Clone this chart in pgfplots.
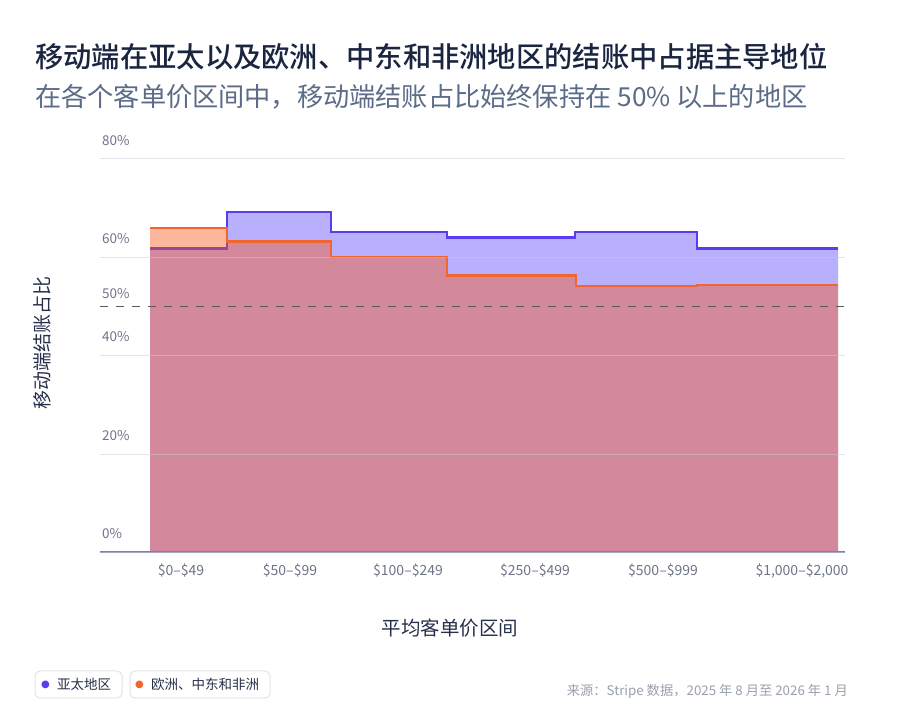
\documentclass[border=0pt]{standalone}
\usepackage{fontspec}
\setmainfont{Noto Sans CJK SC}
\newfontfamily\titlefont{Noto Sans CJK SC}[UprightFont=* Medium]
\newfontfamily\symfont{DejaVu Sans}
\usepackage{pgfplots}
\pgfplotsset{compat=1.18}
\definecolor{apline}{HTML}{5B3CF0}
\definecolor{apfill}{HTML}{B8B0FD}
\definecolor{euline}{HTML}{F2652E}
\definecolor{eufill}{RGB}{250,82,21}
\definecolor{titlec}{HTML}{1A2540}
\definecolor{subc}{HTML}{5C6C88}
\definecolor{tickc}{HTML}{6E7488}
\definecolor{labc}{HTML}{27304A}
\definecolor{basec}{HTML}{7D82A8}
\definecolor{gridc}{HTML}{C8CAD8}
\definecolor{srcc}{HTML}{9AA0AD}
\definecolor{boxc}{HTML}{E2E4EB}
\begin{document}
\begin{tikzpicture}
\fill[white] (0,0) rectangle (900pt,728pt);
\path[use as bounding box] (0,0) rectangle (900pt,728pt);
% titles
\node[anchor=west, inner sep=0pt, text=titlec, font=\titlefont\fontsize{28.3}{32}\selectfont] at (35pt,671.5pt) {移动端在亚太以及欧洲、中东和非洲地区的结账中占据主导地位};
\node[anchor=west, inner sep=0pt, text=subc, font=\fontsize{26.2}{30}\selectfont] at (35pt,631.5pt) {在各个客单价区间中，移动端结账占比始终保持在 50\% 以上的地区};
% axis labels
\node[rotate=90, inner sep=0pt, text=labc, font=\fontsize{19}{22}\selectfont] at (42pt,385pt) {移动端结账占比};
\node[inner sep=0pt, text=labc, font=\fontsize{19.5}{22}\selectfont] at (450pt,100pt) {平均客单价区间};
\begin{axis}[
  at={(100pt,175.5pt)}, anchor=south west,
  x=1pt, y=4.92pt,
  xmin=100, xmax=845, ymin=0, ymax=82,
  axis line style={draw=none},
  tick style={draw=none},
  major tick length=0pt,
  axis on top,
  clip=false,
  ytick={0,20,40,60,80},
  yticklabels={0\%,20\%,40\%,60\%,80\%},
  extra y ticks={50},
  extra y tick labels={50\%},
  extra y tick style={ymajorgrids=false, yticklabel style={yshift=-5.5pt}},
  ymajorgrids=true,
  major grid style={draw=gridc, opacity=0.5, line width=1pt},
  yticklabel style={anchor=south west, inner sep=0pt, xshift=2pt, yshift=13.5pt, text=tickc, font=\fontsize{13.5}{15}\selectfont},
  xtick={181,290,408,535,663,802},
  xticklabels={\$0–\$49,\$50–\$99,\$100–\$249,\$250–\$499,\$500–\$999,{\$1,000–\$2,000}},
  xticklabel style={anchor=north, inner sep=0pt, yshift=-11pt, text=tickc, font=\fontsize{14}{16}\selectfont},
]
\addplot[const plot, fill=apfill, draw=none] coordinates {(150,61.8)(227,69.2)(331,65.1)(447,64.0)(575,65.1)(697,61.8)(838,61.8)} \closedcycle;
\addplot[const plot, draw=apline, line width=2.4pt] coordinates {(150,61.8)(227,69.2)(331,65.1)(447,64.0)(575,65.1)(697,61.8)(838,61.8)};
\addplot[const plot, fill=eufill, fill opacity=0.42, draw=none] coordinates {(150,65.9)(227,63.2)(331,60.1)(447,56.3)(576,54.2)(697,54.4)(838,54.4)} \closedcycle;
\addplot[const plot, draw=euline, line width=2.4pt] coordinates {(150,65.9)(227,63.2)(331,60.1)(447,56.3)(576,54.2)(697,54.4)(838,54.4)};
\addplot[draw=black!65, line width=1.3pt, dash pattern=on 8pt off 8pt] coordinates {(100,50)(845,50)};
\addplot[draw=basec, line width=2pt] coordinates {(100,0)(845,0)};
\end{axis}
% legend
\draw[boxc, line width=1pt, fill=white, rounded corners=5pt] (35pt,30pt) rectangle (122pt,57pt);
\draw[boxc, line width=1pt, fill=white, rounded corners=5pt] (130pt,30pt) rectangle (270pt,57pt);
\node[anchor=west, inner sep=0pt, text=apline, font=\symfont\fontsize{10}{12}\selectfont] at (41pt,43.5pt) {●};
\node[anchor=west, inner sep=0pt, text=labc, font=\fontsize{13.5}{15}\selectfont] at (57pt,43.5pt) {亚太地区};
\node[anchor=west, inner sep=0pt, text=euline, font=\symfont\fontsize{10}{12}\selectfont] at (135pt,43.5pt) {●};
\node[anchor=west, inner sep=0pt, text=labc, font=\fontsize{13.5}{15}\selectfont] at (151pt,43.5pt) {欧洲、中东和非洲};
% source
\node[anchor=east, inner sep=0pt, text=srcc, font=\fontsize{13.3}{15}\selectfont] at (848pt,37pt) {来源：Stripe 数据，2025 年 8 月至 2026 年 1 月};
\end{tikzpicture}
\end{document}
